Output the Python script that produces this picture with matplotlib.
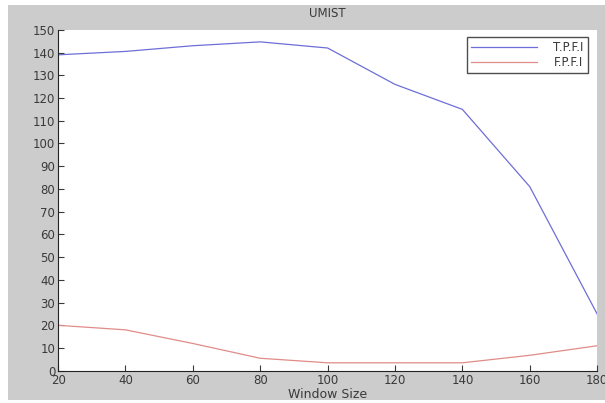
import matplotlib
matplotlib.use('Agg')
import matplotlib.pyplot as plt
from matplotlib.patches import Rectangle

# ---- data ----
window_size = [20, 40, 60, 80, 100, 120, 140, 160, 180]
tpfi = [139, 140.5, 143, 144.7, 142, 126, 115, 81, 25]
fpfi = [20, 18, 12, 5.5, 3.5, 3.5, 3.5, 6.8, 11]
y_ticks = list(range(0, 151, 10))
x_ticks = list(range(20, 181, 20))

plt.rcParams['font.family'] = ['DejaVu Sans']

fig = plt.figure(figsize=(6.05, 4.03), dpi=100, facecolor='white')
# grey matlab-style figure panel with a thin white margin
fig.patches.append(Rectangle((8 / 605, 3 / 403), 597 / 605, 395 / 403,
                             transform=fig.transFigure, facecolor='#cccccc',
                             edgecolor='none', zorder=-1))
ax = fig.add_axes([0.096, 0.080, 0.891, 0.846])

ax.plot(window_size, tpfi, color='#6e6ed8', lw=0.9, label='T.P.F.I')
ax.plot(window_size, fpfi, color='#e08c88', lw=0.9, label='F.P.F.I')

ax.set_xlim(20, 180)
ax.set_ylim(0, 150)
ax.set_xticks(x_ticks)
ax.set_yticks(y_ticks)
ax.tick_params(direction='in', length=4, labelsize=8.5, colors='#3a3a3a', pad=2)
for side in ['top', 'right']:
    ax.spines[side].set_visible(False)
for side in ['left', 'bottom']:
    ax.spines[side].set_color('#222222')

ax.set_title('UMIST', fontsize=8.5, color='#3a3a3a', pad=9)
ax.set_xlabel('Window Size', fontsize=9, color='#3a3a3a', labelpad=1)

leg = ax.legend(loc='upper right', fontsize=8.5, frameon=True, fancybox=False,
                edgecolor='#222222', handlelength=5.6, borderpad=0.35,
                labelspacing=0.15, handletextpad=1.4, borderaxespad=0,
                bbox_to_anchor=(0.983, 0.979))
leg.get_frame().set_linewidth(1.0)
for t in leg.get_texts():
    t.set_color('#3a3a3a')

fig.savefig('out.png', dpi=100, facecolor=fig.get_facecolor())
